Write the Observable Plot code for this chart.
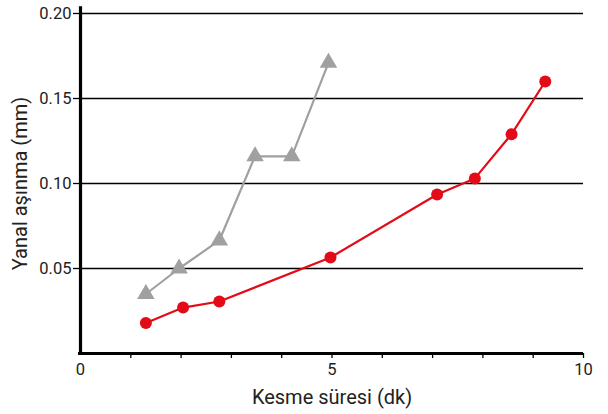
<!DOCTYPE html>
<html><head><meta charset="utf-8">
<script src="https://cdn.jsdelivr.net/npm/d3@7"></script>
<script src="https://cdn.jsdelivr.net/npm/@observablehq/plot@0.6"></script>
<style>body{margin:0;background:#fff;} svg{font-family:Roboto, sans-serif;}</style>
</head><body><div id="chart"></div>
<script>
const grayX = [1.30, 1.96, 2.76, 3.47, 4.20, 4.93];
const grayY = [0.035, 0.050, 0.0665, 0.116, 0.116, 0.171];
const redX = [1.30, 2.04, 2.76, 4.97, 7.09, 7.84, 8.57, 9.24];
const redY = [0.018, 0.027, 0.0306, 0.0565, 0.0935, 0.103, 0.129, 0.160];
const yTicks = [0.05, 0.10, 0.15, 0.20];
const xMinor = [1,2,3,4,5,6,7,8,9,10];
const xMajor = [0,5,10];
const xLabel = "Kesme süresi (dk)";
const yLabel = "Yanal aşınma (mm)";

const gray = grayX.map((x,i)=>({x, y: grayY[i]}));
const red = redX.map((x,i)=>({x, y: redY[i]}));
const GRAY = "#a0a0a0", RED = "#e30b17";

const chart = Plot.plot({
  width: 608, height: 414,
  marginLeft: 80, marginRight: 25, marginTop: 13, marginBottom: 61,
  style: {fontFamily: "Roboto, sans-serif", fontSize: "16px", color: "#222"},
  x: {domain: [0, 10]},
  y: {domain: [0, 0.2]},
  marks: [
    Plot.ruleY(yTicks, {stroke: "#000", strokeWidth: 1.3}),
    Plot.axisY({ticks: yTicks, tickFormat: ".2f", tickSize: 7, tickPadding: 2, stroke: "#000", strokeWidth: 1.3, fill: "#222", label: null, fontSize: 16.5}),
    Plot.axisX({ticks: xMinor, tickFormat: () => "", tickSize: 5, stroke: "#000", strokeWidth: 1.3, label: null}),
    Plot.axisX({ticks: xMajor, tickSize: 0, tickPadding: 10, fill: "#222", label: null, fontSize: 16.5}),
    Plot.ruleX([0], {y1: 0, y2: 0.204, stroke: "#000", strokeWidth: 3.2}),
    Plot.ruleY([0], {x1: -0.04, x2: 10, stroke: "#000", strokeWidth: 3.2}),
    Plot.line(gray, {x: "x", y: "y", stroke: GRAY, strokeWidth: 2.2}),
    Plot.dot(gray, {x: "x", y: "y", symbol: "triangle", r: 6.5, fill: GRAY, stroke: "none"}),
    Plot.line(red, {x: "x", y: "y", stroke: RED, strokeWidth: 2.2}),
    Plot.dot(red, {x: "x", y: "y", r: 6, fill: RED, stroke: "none"}),
    Plot.text([xLabel], {frameAnchor: "bottom", dy: 50, fontSize: 20, fill: "#222"}),
    Plot.text([yLabel], {frameAnchor: "left", textAnchor: "middle", dx: -60, rotate: -90, fontSize: 20, fill: "#222"})
  ]
});
document.getElementById("chart").appendChild(chart);
</script></body></html>
